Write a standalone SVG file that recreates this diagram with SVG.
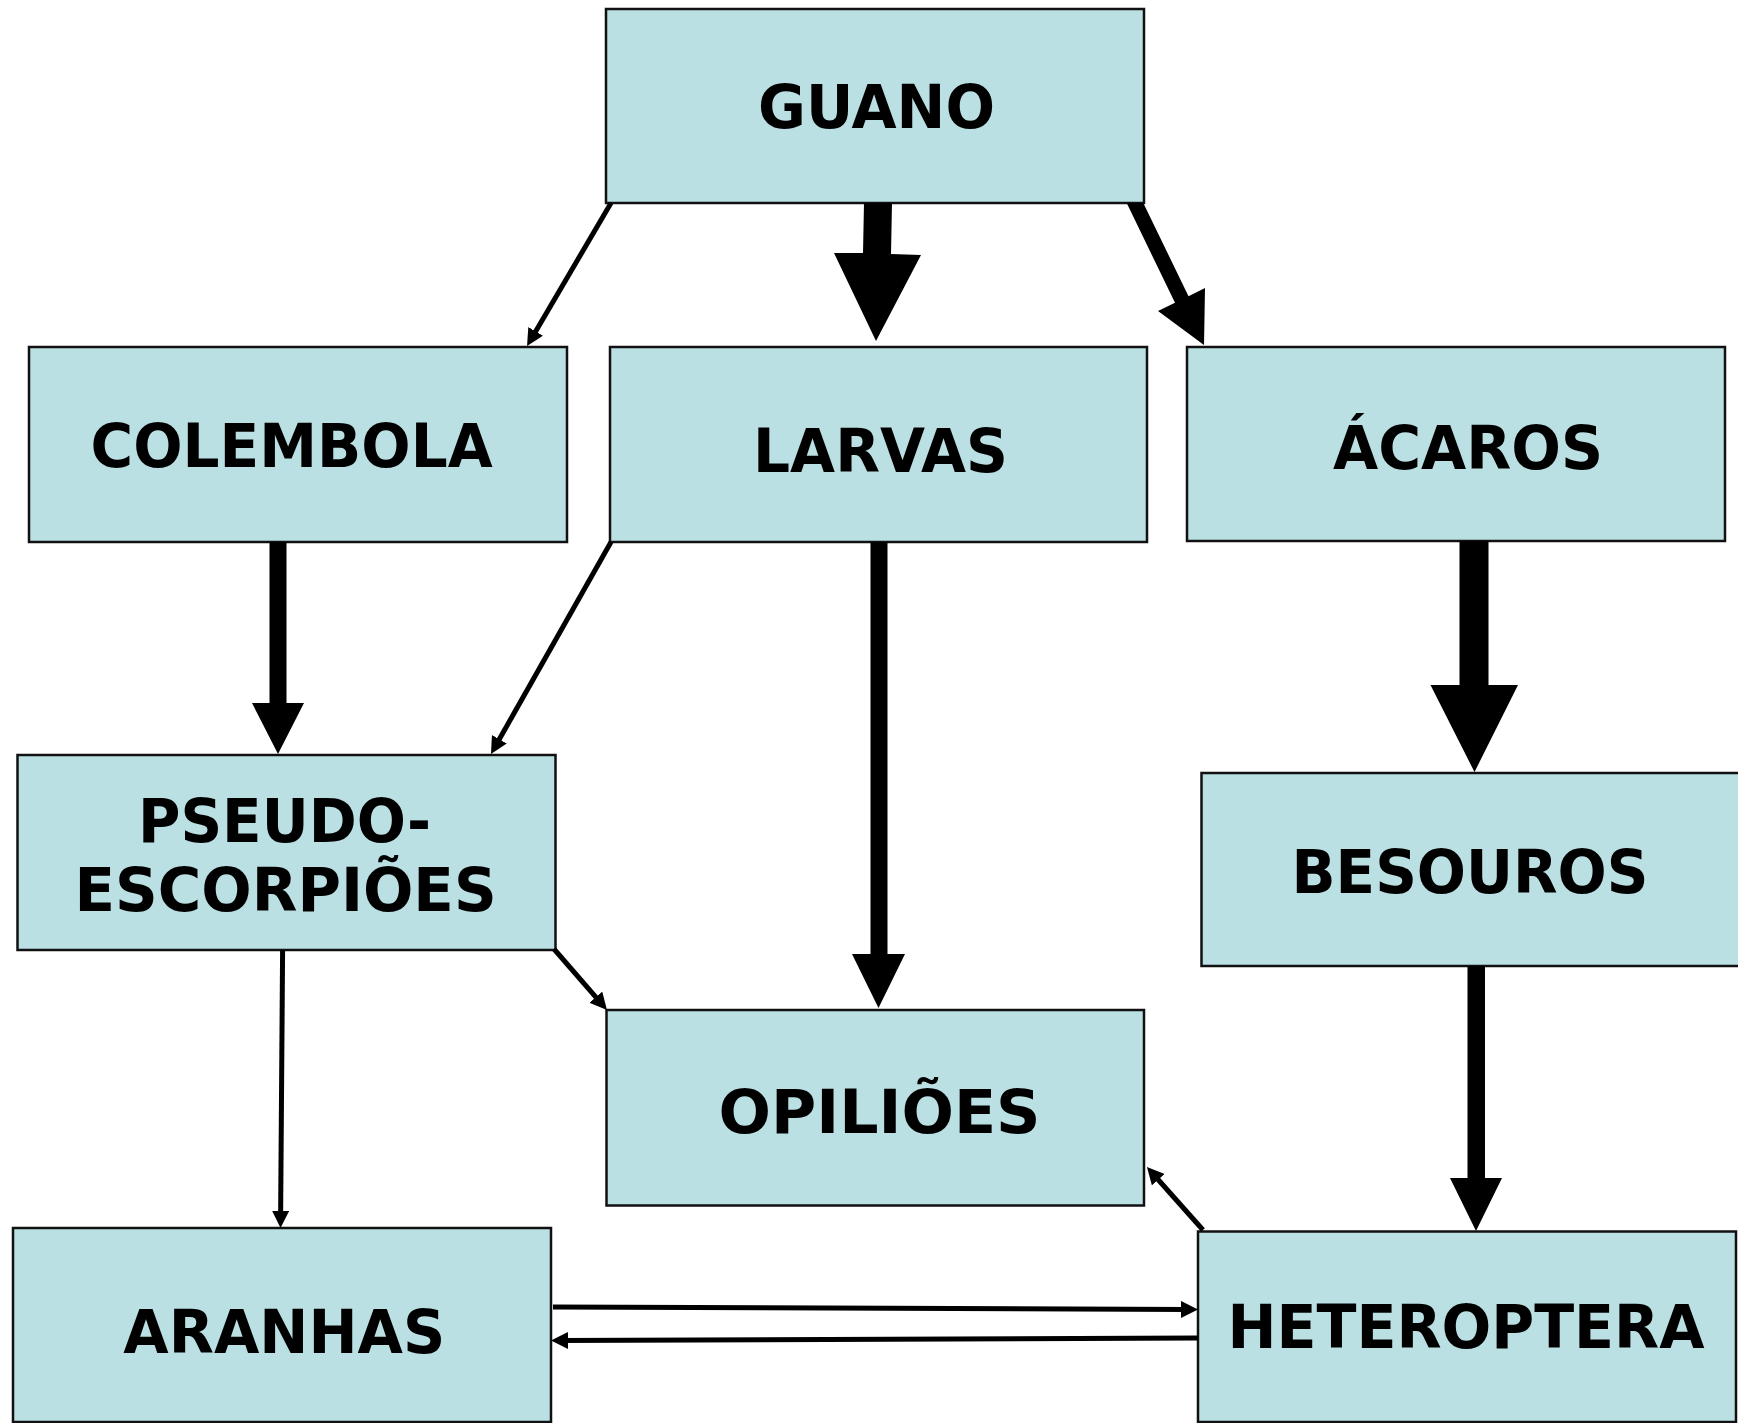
<svg xmlns="http://www.w3.org/2000/svg" width="1738" height="1423" viewBox="0 0 1738 1423">
<style>
.box{fill:#bbe0e3;stroke:#111;stroke-width:2.5}
.lbl{font-family:"DejaVu Sans","Verdana","Liberation Sans",sans-serif;font-weight:bold;font-size:61px;fill:#000;text-anchor:middle}
.thin{stroke:#000;stroke-width:5;fill:none;marker-end:url(#ah)}
.thick{fill:#000;stroke:none}
</style>
<defs>
<marker id="ah" viewBox="0 0 17 17" refX="7" refY="8.5" markerWidth="17" markerHeight="17" markerUnits="userSpaceOnUse" orient="auto">
<path d="M0,0 L17,8.5 L0,17 z" fill="#000"/>
</marker>
</defs>
<rect x="0" y="0" width="1738" height="1423" fill="#fff"/>
<g id="nodes">
<g id="guano"><rect class="box" x="606" y="9" width="538" height="194"/><text class="lbl" x="876.5" y="128" textLength="237" lengthAdjust="spacingAndGlyphs">GUANO</text></g>
<g id="colembola"><rect class="box" x="29" y="347" width="538" height="195"/><text class="lbl" x="291.6" y="467" textLength="402" lengthAdjust="spacingAndGlyphs">COLEMBOLA</text></g>
<g id="larvas"><rect class="box" x="610" y="347" width="537" height="195"/><text class="lbl" x="880.5" y="471.5" textLength="255" lengthAdjust="spacingAndGlyphs">LARVAS</text></g>
<g id="acaros"><rect class="box" x="1187" y="347" width="538" height="194"/><text class="lbl" x="1468" y="469" textLength="270" lengthAdjust="spacingAndGlyphs">ÁCAROS</text></g>
<g id="pseudo"><rect class="box" x="17.5" y="755" width="538" height="195"/><text class="lbl" x="284.5" y="841.5" textLength="293" lengthAdjust="spacingAndGlyphs">PSEUDO-</text><text class="lbl" x="285.6" y="910.7" textLength="422" lengthAdjust="spacingAndGlyphs">ESCORPIÕES</text></g>
<g id="besouros"><rect class="box" x="1201.5" y="773" width="540" height="193"/><text class="lbl" x="1470" y="893" textLength="357" lengthAdjust="spacingAndGlyphs">BESOUROS</text></g>
<g id="opilioes"><rect class="box" x="606.5" y="1010" width="537.5" height="195.5"/><text class="lbl" x="879.5" y="1132.7" textLength="322" lengthAdjust="spacingAndGlyphs">OPILIÕES</text></g>
<g id="aranhas"><rect class="box" x="13" y="1228" width="538" height="194"/><text class="lbl" x="284.3" y="1353" textLength="322" lengthAdjust="spacingAndGlyphs">ARANHAS</text></g>
<g id="heteroptera"><rect class="box" x="1198" y="1231.5" width="538" height="190.5"/><text class="lbl" x="1466" y="1347.7" textLength="477" lengthAdjust="spacingAndGlyphs">HETEROPTERA</text></g>
</g>
<g id="connectors">
<line class="thin" x1="611" y1="203" x2="532.1" y2="337.4"/>
<polygon class="thick" points="864,203 892,203 891,254 921,255 876,341 834,253 863,253"/>
<polygon class="thick" points="1126.7,203 1143.3,203 1188.5,296.2 1205,288 1204,345 1158,311 1175,302.8"/>
<polygon class="thick" points="269.5,542 286.5,542 286.5,703 304,703 278,754 252,703 269.5,703"/>
<line class="thin" x1="611" y1="542" x2="495.9" y2="745.3"/>
<polygon class="thick" points="870.5,542 887.5,542 887.5,954 905,954 878.5,1008 852,954 870.5,954"/>
<polygon class="thick" points="1459.5,541 1488.5,541 1488.5,685 1518,685 1474.5,772 1430.5,685 1459.5,685"/>
<polygon class="thick" points="1467.5,966 1485,966 1485,1178 1502,1178 1476,1231 1450,1178 1467.5,1178"/>
<line class="thin" x1="282.6" y1="950" x2="280.6" y2="1218"/>
<line class="thin" x1="554" y1="949" x2="600.4" y2="1002.4"/>
<line class="thin" x1="1203" y1="1230" x2="1153.6" y2="1174.5"/>
<line class="thin" x1="553" y1="1307" x2="1188" y2="1309.5"/>
<line class="thin" x1="1198" y1="1338" x2="561" y2="1340.5"/>
</g>
</svg>
